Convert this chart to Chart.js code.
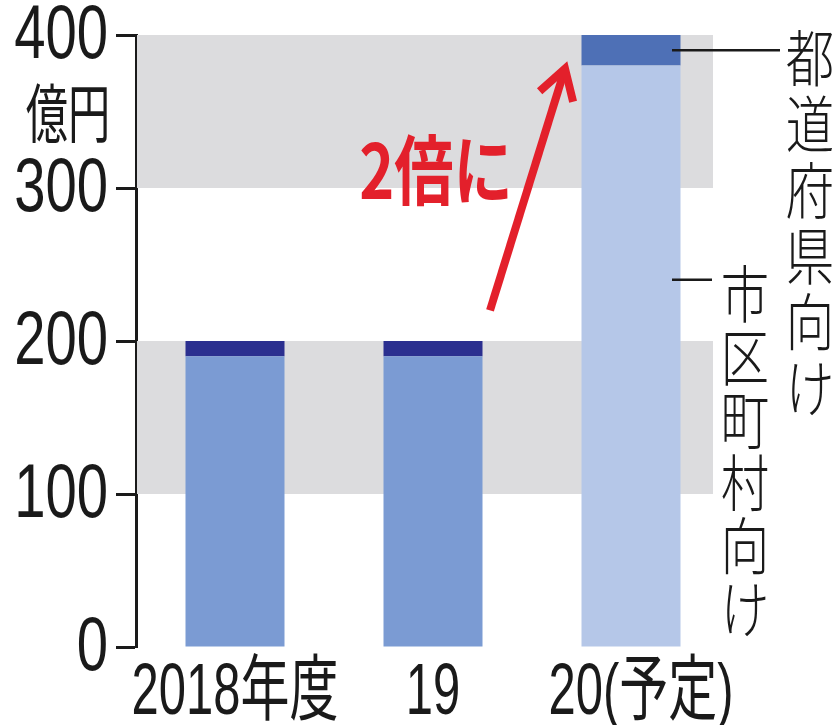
<!DOCTYPE html>
<html>
<head>
<meta charset="utf-8">
<script src="https://cdn.jsdelivr.net/npm/chart.js@4/dist/chart.umd.min.js"></script>
<style>
  html, body { margin: 0; padding: 0; background: #fff; }
  #wrap { width: 838px; height: 725px; }
</style>
</head>
<body>
<div id="wrap"><canvas id="grantChart" width="838" height="725"></canvas></div>
<script>
// fiscal years on the x axis
const years = ["2018年度", "19", "20(予定)"];
// 市区町村向け (bottom part of each bar), 億円
const municipal = [190, 190, 380];
// 都道府県向け (top part of each bar), 億円
const prefectural = [10, 10, 20];
// y axis ticks
const yTicks = [0, 100, 200, 300, 400];
// shaded value ranges behind the bars
const bandRanges = [[100, 200], [300, 400]];

const municipalColors = ["#7b9bd3", "#7b9bd3", "#b5c7e8"];
const prefecturalColors = ["#2b2f8f", "#2b2f8f", "#4e70b6"];

const FONT_LABEL = "'Liberation Sans', 'Noto Sans CJK JP', sans-serif";
const FONT_JP = "'Noto Sans CJK JP', sans-serif";
const INK = "#1a1a1a";

// draws text squeezed horizontally, like a condensed newspaper face
function narrowText(ctx, text, x, y, opts) {
  ctx.save();
  ctx.translate(x, y);
  ctx.scale(opts.squeeze, 1);
  ctx.font = (opts.weight || "normal") + " " + opts.size + "px " + (opts.family || FONT_JP);
  ctx.fillStyle = opts.color || INK;
  ctx.textAlign = opts.align || "center";
  ctx.textBaseline = "middle";
  ctx.fillText(text, 0, 0);
  ctx.restore();
}

// gray bands behind the bars
const bandsPlugin = {
  id: "bands",
  beforeDatasetsDraw(chart) {
    const { ctx, chartArea, scales } = chart;
    const y = scales.y;
    ctx.save();
    ctx.fillStyle = "#dcdcde";
    bandRanges.forEach(([lo, hi]) => {
      const top = y.getPixelForValue(hi);
      const bottom = y.getPixelForValue(lo);
      ctx.fillRect(chartArea.left + 1, top, chartArea.right - 18 - chartArea.left, bottom - top);
    });
    ctx.restore();
  }
};

// condensed tick labels placed at the scales' own tick positions
const tickLabelsPlugin = {
  id: "tickLabels",
  afterDraw(chart) {
    const { ctx, scales } = chart;
    const x = scales.x, y = scales.y;
    yTicks.forEach(v => {
      narrowText(ctx, String(v), 108, y.getPixelForValue(v) + 2,
        { size: 76, squeeze: 0.74, family: FONT_LABEL, align: "right" });
    });
    years.forEach((name, i) => {
      const shift = i === 2 ? 10 : 0;
      narrowText(ctx, name, x.getPixelForValue(i) + shift, 694,
        { size: 72, squeeze: 0.68, family: FONT_LABEL });
    });
  }
};

// unit label, arrow, "2倍に" and the two vertical series labels
const notesPlugin = {
  id: "notes",
  afterDraw(chart) {
    const { ctx, scales } = chart;
    const x = scales.x, y = scales.y;
    const x19 = x.getPixelForValue(1);
    const x20 = x.getPixelForValue(2);

    // 億円 under the top tick
    narrowText(ctx, "億円", 68, 113, { size: 64, squeeze: 0.66 });

    // red arrow from the 19 bar up to the 20 bar
    const sx = x19 + 57, sy = y.getPixelForValue(220);
    const ex = x20 - 66, ey = y.getPixelForValue(378);
    const ang = Math.atan2(ey - sy, ex - sx);
    ctx.save();
    ctx.strokeStyle = "#e3202b";
    ctx.lineWidth = 8;
    ctx.beginPath();
    ctx.moveTo(sx, sy);
    ctx.lineTo(ex - 4 * Math.cos(ang), ey - 4 * Math.sin(ang));
    ctx.stroke();
    ctx.beginPath();
    const head = 34;
    ctx.moveTo(ex + head * Math.cos(ang + 2.6), ey + head * Math.sin(ang + 2.6));
    ctx.lineTo(ex, ey);
    ctx.lineTo(ex + head * Math.cos(ang - 2.6), ey + head * Math.sin(ang - 2.6));
    ctx.stroke();
    ctx.restore();

    narrowText(ctx, "2倍に", x19 + 3, y.getPixelForValue(312),
      { size: 76, squeeze: 0.78, color: "#e3202b", weight: "bold" });

    // leader lines
    ctx.save();
    ctx.strokeStyle = INK;
    ctx.lineWidth = 2.5;
    ctx.beginPath();
    ctx.moveTo(x20 + 41, y.getPixelForValue(390));
    ctx.lineTo(780, y.getPixelForValue(390));
    ctx.moveTo(x20 + 41, y.getPixelForValue(240));
    ctx.lineTo(712, y.getPixelForValue(240));
    ctx.stroke();
    ctx.restore();

    // vertical labels, one character at a time
    const colA = "都道府県向け";
    for (let i = 0; i < colA.length; i++) {
      narrowText(ctx, colA[i], 810, 58 + i * 66, { size: 62, squeeze: 0.78, weight: "300" });
    }
    const colB = "市区町村向け";
    for (let i = 0; i < colB.length; i++) {
      narrowText(ctx, colB[i], 745, 294 + i * 63, { size: 62, squeeze: 0.78, weight: "300" });
    }
  }
};

new Chart(document.getElementById("grantChart"), {
  type: "bar",
  data: {
    labels: years,
    datasets: [
      {
        label: "市区町村向け",
        data: municipal,
        backgroundColor: municipalColors,
        borderWidth: 0
      },
      {
        label: "都道府県向け",
        data: prefectural,
        backgroundColor: prefecturalColors,
        borderWidth: 0
      }
    ]
  },
  options: {
    responsive: false,
    animation: false,
    events: [],
    layout: { padding: { top: 35, right: 108, left: 0, bottom: 0 } },
    datasets: { bar: { categoryPercentage: 1, barPercentage: 0.5 } },
    plugins: {
      legend: { display: false },
      tooltip: { enabled: false }
    },
    scales: {
      x: {
        stacked: true,
        grid: { display: false },
        border: { display: false },
        ticks: { display: false },
        afterFit(scale) {
          scale.height = 78;
          scale.paddingLeft = 0;
          scale.paddingRight = 0;
        }
      },
      y: {
        stacked: true,
        min: 0,
        max: 400,
        afterBuildTicks(scale) {
          scale.ticks = yTicks.map(v => ({ value: v }));
        },
        grid: {
          drawOnChartArea: false,
          tickLength: 20,
          tickColor: INK,
          tickWidth: 3
        },
        border: { display: true, color: INK, width: 3 },
        ticks: { display: false },
        afterFit(scale) {
          scale.width = 136;
          scale.paddingTop = 0;
          scale.paddingBottom = 0;
        }
      }
    }
  },
  plugins: [bandsPlugin, tickLabelsPlugin, notesPlugin]
});
</script>
</body>
</html>
